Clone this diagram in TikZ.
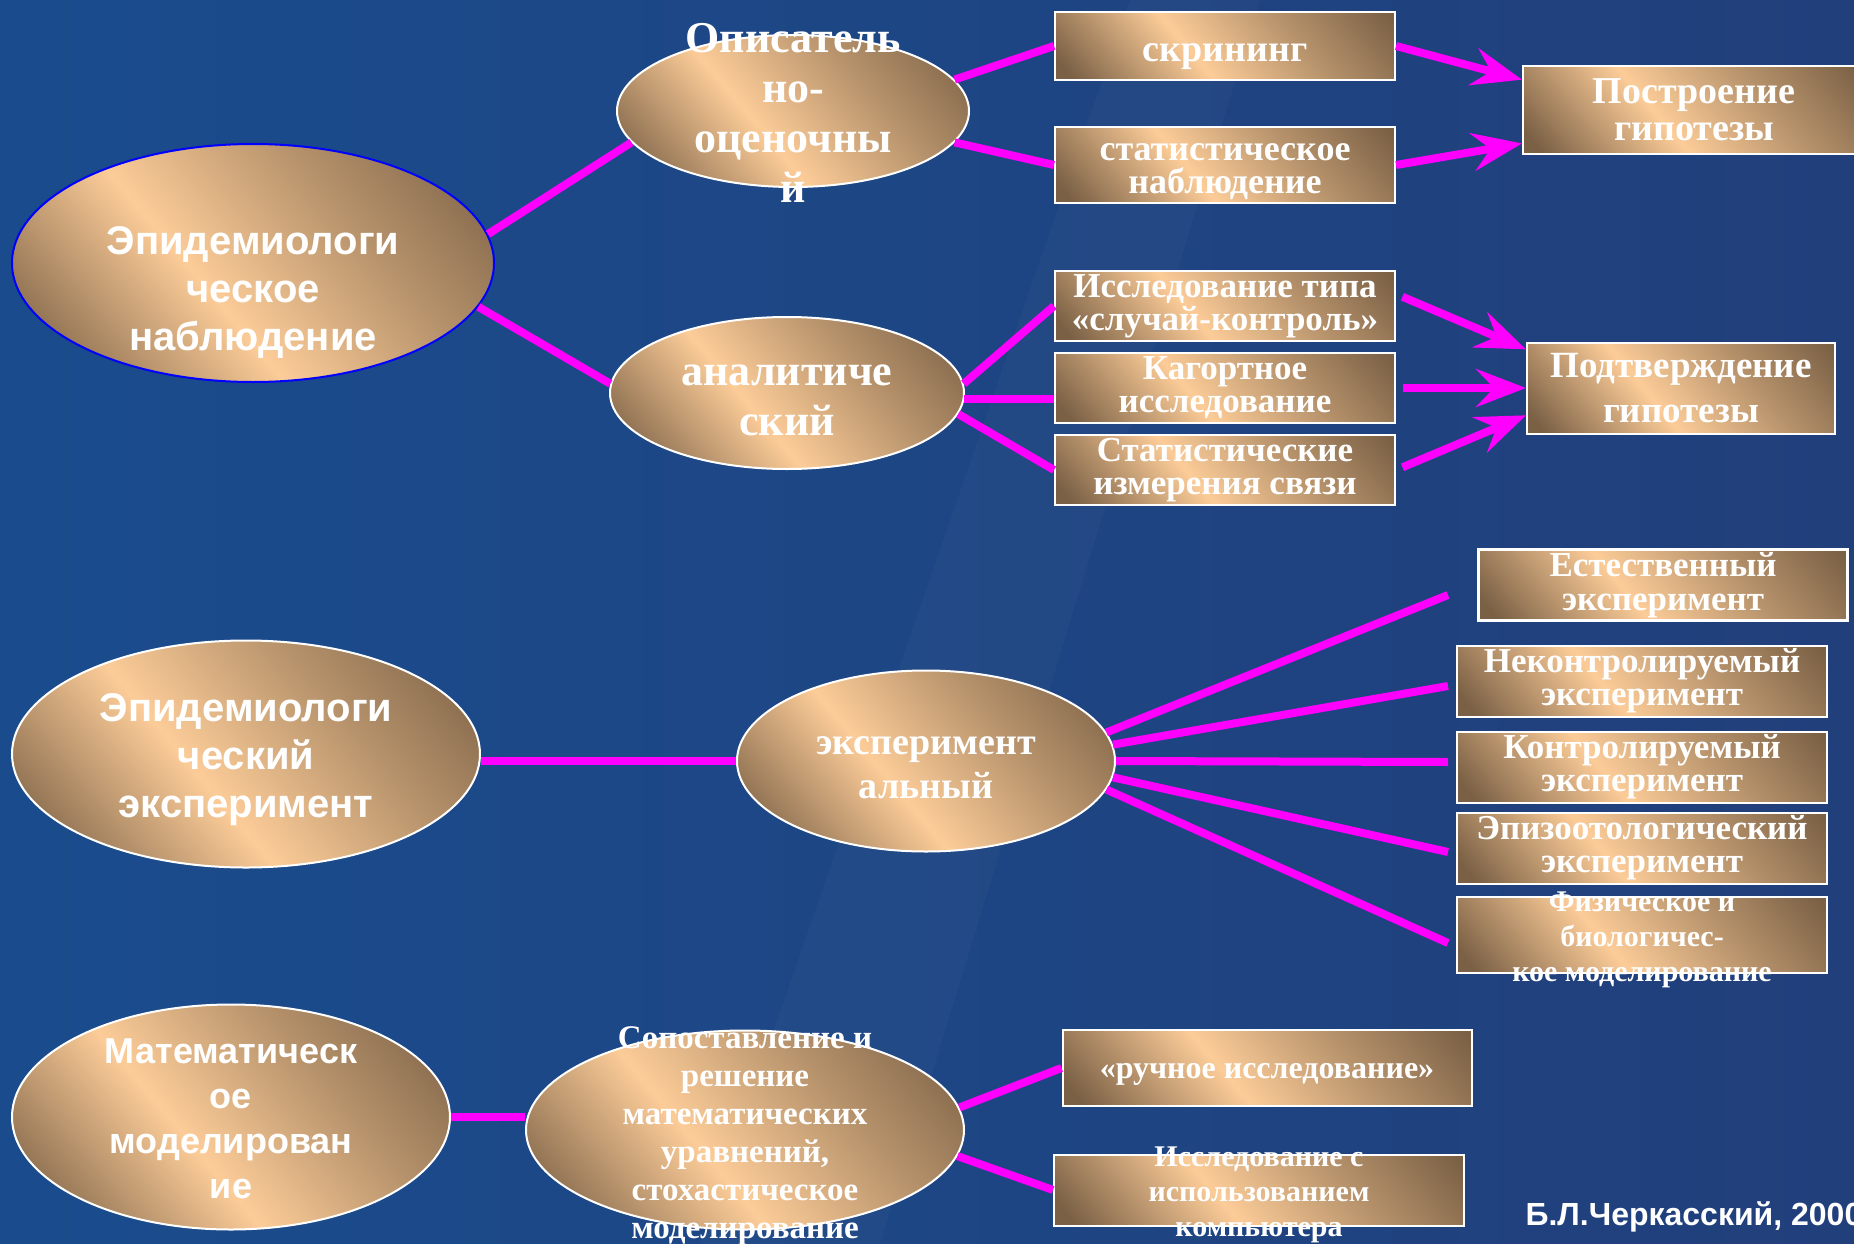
\documentclass[tikz,border=0pt]{standalone}
\usepackage{fontspec}
\setmainfont{Liberation Serif}
\setsansfont{Liberation Sans}
\usetikzlibrary{shapes.geometric,arrows.meta}

\definecolor{bgleft}{HTML}{1A4C8D}
\definecolor{bgright}{HTML}{213F7B}
\definecolor{brdark}{HTML}{7A6045}
\definecolor{brmid}{HTML}{BC976F}
\definecolor{brlight}{HTML}{FCCC98}
\definecolor{lnk}{HTML}{FF00FF}
\pgfdeclarehorizontalshading{brass}{100bp}{color(0bp)=(brdark); color(18bp)=(brdark); color(43bp)=(brlight); color(62bp)=(brmid); color(84bp)=(brdark); color(100bp)=(brdark)}

\begin{document}
\begin{tikzpicture}[x=1pt,y=-1pt,
  oval/.style={ellipse, draw=white, line width=2pt, shade, shading=brass, shading angle=40, inner sep=0pt},
  box/.style={rectangle, draw=white, line width=2pt, shade, shading=brass, shading angle=40, inner sep=0pt, text=white, align=center},
  otxt/.style={text=white, align=center},
  link/.style={lnk, line width=8pt},
  arr/.style={link, -{Stealth[length=50pt, width=38pt, inset=18pt]}}]
\useasboundingbox (0,0) rectangle (1854,1244);
\shade[left color=bgleft, right color=bgright] (0,0) rectangle (1854,1244);
\fill[white, opacity=.025] (1130,0) -- (1260,0) -- (880,1244) -- (700,1244) -- cycle;

\node[oval, draw=blue, minimum width=482pt, minimum height=238pt] (obs) at (253,263) {};
\node[otxt, font=\sffamily\bfseries\fontsize{40}{48}\selectfont] (obs-t) at (253,293) {Эпидемиологи\\ческое\\наблюдение};
\node[oval, minimum width=352pt, minimum height=152pt] (descr) at (793,111) {};
\node[otxt, font=\bfseries\fontsize{44}{50}\selectfont] (descr-t) at (793,113) {Описатель\\но-\\оценочны\\й};
\node[oval, minimum width=354pt, minimum height=152pt] (anal) at (787,393) {};
\node[otxt, font=\bfseries\fontsize{44}{50}\selectfont] (anal-t) at (787,400) {аналитиче\\ский};

\node[box, minimum width=340pt, minimum height=68pt] (scr) at (1225,46) {};
\node[otxt, font=\bfseries\fontsize{38}{34}\selectfont] (scr-t) at (1225,57) {скрининг};
\node[box, minimum width=340pt, minimum height=76pt] (stat) at (1225,165) {};
\node[otxt, font=\bfseries\fontsize{36}{33}\selectfont] (stat-t) at (1225,172) {статистическое\\наблюдение};
\node[box, minimum width=342pt, minimum height=87pt, font=\bfseries\fontsize{38}{37}\selectfont] (hyp1) at (1694,110) {Построение\\гипотезы};
\node[box, minimum width=340pt, minimum height=70pt, font=\bfseries\fontsize{35}{33}\selectfont] (cc) at (1225,306) {Исследование типа\\«случай-контроль»};
\node[box, minimum width=340pt, minimum height=70pt, font=\bfseries\fontsize{35}{33}\selectfont] (kag) at (1225,388) {Кагортное\\исследование};
\node[box, minimum width=340pt, minimum height=70pt, font=\bfseries\fontsize{35}{33}\selectfont] (st3) at (1225,470) {Статистические\\измерения связи};
\node[box, minimum width=308pt, minimum height=91pt, font=\bfseries\fontsize{37}{45}\selectfont] (hyp2) at (1681,388) {Подтверждение\\гипотезы};

\draw[link] (obs.7) -- (descr.191);
\draw[link] (obs.-11) -- (anal.177);
\draw[link] (descr.11) -- (scr.west);
\draw[link] (descr.-11) -- (stat.west);
\draw[link] (anal.3) -- (cc.west);
\draw[link] (anal.-2) -- (anal.-2 -| kag.west);
\draw[link] (anal.-7) -- (st3.west);
\draw[arr] (scr.east) -- (hyp1.170);
\draw[arr] (stat.east) -- (hyp1.191);
\draw[arr, shorten <=7pt] (cc.4) -- (hyp2.166);
\draw[arr, shorten <=7pt] (kag.east) -- (hyp2.west);
\draw[arr, shorten <=7pt] (st3.east) -- (hyp2.190);

\node[oval, minimum width=468pt, minimum height=227pt] (expD) at (246,754) {};
\node[otxt, font=\sffamily\bfseries\fontsize{40}{48}\selectfont] (expD-t) at (246,760) {Эпидемиологи\\ческий\\эксперимент};
\node[oval, minimum width=378pt, minimum height=181pt] (expl) at (926,761) {};
\node[otxt, font=\bfseries\fontsize{38}{44}\selectfont] (expl-t) at (926,768) {эксперимент\\альный};

\node[box, line width=3pt, minimum width=369pt, minimum height=71pt, font=\bfseries\fontsize{35}{34}\selectfont] (nat) at (1663,585) {Естественный\\эксперимент};
\node[box, minimum width=370pt, minimum height=71pt, font=\bfseries\fontsize{35}{33}\selectfont] (unctl) at (1642,681) {Неконтролируемый\\эксперимент};
\node[box, minimum width=370pt, minimum height=71pt, font=\bfseries\fontsize{35}{33}\selectfont] (ctl) at (1642,767) {Контролируемый\\эксперимент};
\node[box, minimum width=370pt, minimum height=71pt, font=\bfseries\fontsize{35}{33}\selectfont] (epiz) at (1642,848) {Эпизоотологический\\эксперимент};
\node[box, minimum width=370pt, minimum height=76pt] (phys) at (1642,935) {};
\node[otxt, font=\bfseries\fontsize{30}{35}\selectfont] (phys-t) at (1642,940) {Физическое и\\биологичес-\\кое моделирование};

\coordinate (e1) at (1448,595);
\coordinate (e2) at (1448,686);
\coordinate (e3) at (1448,762);
\coordinate (e4) at (1448,852);
\coordinate (e5) at (1448,943);
\draw[link] (expD.east |- expl.west) -- (expl.west);
\draw[link] (expl.9) -- (e1);
\draw[link] (expl.5) -- (e2);
\draw[link] (expl.0) -- (e3);
\draw[link] (expl.-5) -- (e4);
\draw[link] (expl.-9) -- (e5);

\node[oval, minimum width=438pt, minimum height=225pt] (math) at (231,1117) {};
\node[otxt, font=\sffamily\bfseries\fontsize{36}{45}\selectfont] (math-t) at (231,1119) {Математическ\\ое\\моделирован\\ие};
\node[oval, minimum width=438pt, minimum height=199pt] (solv) at (745,1130) {};
\node[otxt, font=\bfseries\fontsize{33}{38}\selectfont] (solv-t) at (745,1136) {Сопоставление и\\решение\\математических\\уравнений,\\стохастическое\\моделирование};
\node[box, minimum width=409pt, minimum height=76pt] (ruch) at (1267,1068) {};
\node[otxt, font=\bfseries\fontsize{32}{36}\selectfont] (ruch-t) at (1267,1074) {«ручное исследование»};
\node[box, minimum width=410pt, minimum height=71pt] (comp) at (1259,1190) {};
\node[otxt, font=\bfseries\fontsize{30}{35}\selectfont] (comp-t) at (1259,1195) {Исследование с\\использованием\\компьютера};

\draw[link] (math.east) -- (math.east -| solv.west);
\draw[link] (solv.6) -- (ruch.west);
\draw[link] (solv.-7) -- (comp.west);

\node[anchor=west, text=white, font=\sffamily\bfseries\fontsize{32}{36}\selectfont] (auth) at (1522,1217) {Б.Л.Черкасский, 2000};
\end{tikzpicture}
\end{document}
